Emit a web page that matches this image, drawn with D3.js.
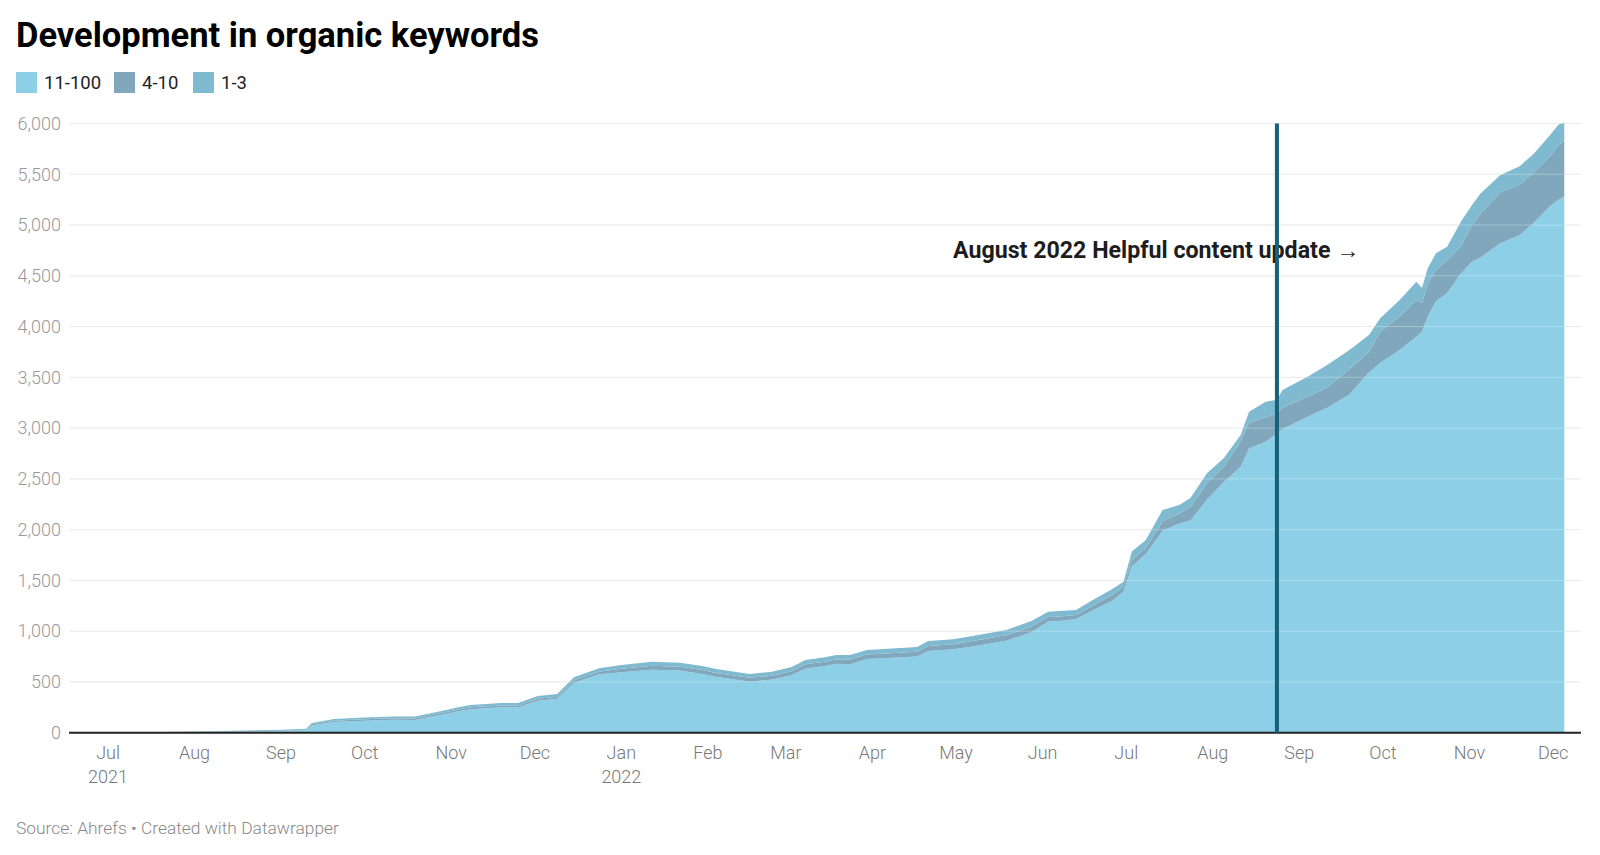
<!DOCTYPE html>
<html lang="en">
<head>
  <meta charset="utf-8">
  <script src="https://d3js.org/d3.v7.min.js"></script>
  <style>
    body { margin: 0; background: #fff; font-family: Roboto, "Noto Sans", sans-serif; }
    .tick-y { font-size: 18px; font-weight: 300; fill: #999; }
    .tick-x { font-size: 18px; font-weight: 300; fill: #777; }
  </style>
</head>
<body>
  <script type="text/javascript">
    // dates of the samples
    var dates = [
      "2021-06-17", "2021-07-01", "2021-07-15", "2021-08-01", "2021-08-15",
      "2021-09-01", "2021-09-10", "2021-09-12", "2021-09-20", "2021-10-01",
      "2021-10-11", "2021-10-19", "2021-10-29", "2021-11-04", "2021-11-08",
      "2021-11-19", "2021-11-25", "2021-12-02", "2021-12-09", "2021-12-15",
      "2021-12-24", "2022-01-01", "2022-01-12", "2022-01-22", "2022-01-30",
      "2022-02-04", "2022-02-16", "2022-02-24", "2022-03-03", "2022-03-08",
      "2022-03-15", "2022-03-19", "2022-03-24", "2022-03-30", "2022-04-17",
      "2022-04-21", "2022-04-30", "2022-05-07", "2022-05-19", "2022-05-28",
      "2022-06-03", "2022-06-07", "2022-06-13", "2022-06-19", "2022-06-26",
      "2022-06-30", "2022-07-03", "2022-07-08", "2022-07-14", "2022-07-20",
      "2022-07-24", "2022-07-30", "2022-08-05", "2022-08-11", "2022-08-14",
      "2022-08-20", "2022-08-24", "2022-08-26", "2022-09-04", "2022-09-11",
      "2022-09-19", "2022-09-26", "2022-09-30", "2022-10-07", "2022-10-13",
      "2022-10-15", "2022-10-17", "2022-10-20", "2022-10-24", "2022-10-29",
      "2022-11-02", "2022-11-05", "2022-11-12", "2022-11-19", "2022-11-24",
      "2022-11-30", "2022-12-03", "2022-12-05"
    ];

    // keywords ranking 11-100
    var pos11to100 = [
      0, 1, 2, 6, 10, 15, 24, 72, 105, 118,
      128, 126, 180, 214, 232, 250, 250, 315, 334, 492,
      575, 595, 620, 612, 578, 550, 503, 524, 566, 632,
      656, 678, 675, 725, 750, 805, 822, 850, 905, 990,
      1095, 1100, 1120, 1205, 1300, 1390, 1640, 1760, 1990, 2060,
      2090, 2300, 2470, 2620, 2800, 2866, 2950, 2990, 3112, 3200,
      3330, 3550, 3640, 3769, 3900, 3950, 4097, 4250, 4330, 4525,
      4640, 4680, 4820, 4900, 5020, 5190, 5250, 5280
    ];

    // keywords ranking 4-10
    var pos4to10 = [
      0, 1, 2, 3, 4, 5, 6, 10, 13, 14,
      14, 14, 16, 16, 18, 18, 18, 20, 20, 24,
      25, 35, 40, 38, 39, 38, 37, 38, 40, 42,
      44, 44, 45, 45, 48, 50, 50, 53, 55, 55,
      45, 45, 40, 45, 55, 50, 60, 60, 90, 100,
      130, 160, 150, 250, 250, 244, 190, 210, 197, 200,
      250, 200, 309, 330, 362, 280, 323, 307, 320, 265,
      360, 430, 500, 500, 492, 490, 540, 550
    ];

    // keywords ranking 1-3
    var pos1to3 = [
      0, 0, 1, 3, 6, 8, 10, 14, 17, 18,
      18, 20, 21, 23, 23, 24, 24, 26, 27, 29,
      34, 37, 39, 40, 40, 39, 38, 39, 41, 42,
      42, 43, 45, 44, 46, 48, 48, 49, 51, 55,
      52, 53, 48, 57, 60, 47, 85, 78, 113, 83,
      91, 98, 86, 62, 111, 150, 140, 175, 197, 221,
      189, 167, 132, 163, 180, 150, 150, 164, 137, 245,
      200, 200, 170, 180, 188, 210, 200, 180
    ];

    var seriesNames = ["11-100", "4-10", "1-3"];
    var seriesColors = ["#8ccfe6", "#80a7bb", "#7fbad0"];
    var yTicks = [0, 500, 1000, 1500, 2000, 2500, 3000, 3500, 4000, 4500, 5000, 5500, 6000];
    var xDomain = ["2021-06-17", "2022-12-11"];
    var updateDate = "2022-08-24";
    var updateLabel = "August 2022 Helpful content update \u2192";

    var dim = {
      width: 1600,
      height: 855,
      left: 69,
      right: 1581,
      top: 123.5,
      bottom: 732.7
    };

    var parse = d3.timeParse("%Y-%m-%d");

    var rows = dates.map(function(d, i) {
      return {
        date: parse(d),
        "11-100": pos11to100[i],
        "4-10": pos4to10[i],
        "1-3": pos1to3[i]
      };
    });

    var svg = d3.select("body")
      .append("svg")
      .attr("width", dim.width)
      .attr("height", dim.height);

    // title
    svg.append("text")
      .attr("x", 16)
      .attr("y", 47)
      .style("font-size", "34.5px")
      .style("font-weight", "700")
      .style("fill", "#000")
      .text("Development in organic keywords");

    // legend
    var legendX = [16, 114, 193];
    seriesNames.forEach(function(name, i) {
      svg.append("rect")
        .attr("x", legendX[i])
        .attr("y", 72)
        .attr("width", 21)
        .attr("height", 21)
        .attr("fill", seriesColors[i]);
      svg.append("text")
        .attr("x", legendX[i] + 28)
        .attr("y", 89)
        .style("font-size", "18.5px")
        .style("fill", "#222")
        .text(name);
    });

    var xScale = d3.scaleTime()
      .domain(xDomain.map(parse))
      .range([dim.left, dim.right]);

    var yScale = d3.scaleLinear()
      .domain([0, 6000])
      .range([dim.bottom, dim.top]);

    // gridlines
    svg.append("g")
      .selectAll("line")
      .data(yTicks.slice(1))
      .enter()
      .append("line")
      .attr("x1", dim.left)
      .attr("x2", dim.right)
      .attr("y1", function(d) { return yScale(d); })
      .attr("y2", function(d) { return yScale(d); })
      .attr("stroke", "#e3e3e3")
      .attr("stroke-width", 1);

    // y labels
    svg.append("g")
      .selectAll("text")
      .data(yTicks)
      .enter()
      .append("text")
      .attr("class", "tick-y")
      .attr("x", 61)
      .attr("y", function(d) { return yScale(d); })
      .attr("dy", "0.35em")
      .attr("text-anchor", "end")
      .text(d3.format(","));

    // stacked areas
    var stack = d3.stack().keys(seriesNames);
    var layers = stack(rows);

    var area = d3.area()
      .x(function(d) { return xScale(d.data.date); })
      .y0(function(d) { return yScale(d[0]); })
      .y1(function(d) { return yScale(d[1]); });

    svg.append("g")
      .selectAll("path")
      .data(layers)
      .enter()
      .append("path")
      .attr("d", area)
      .attr("fill", function(d, i) { return seriesColors[i]; });

    // faint gridlines showing through the areas
    svg.append("g")
      .selectAll("line")
      .data(yTicks.slice(1))
      .enter()
      .append("line")
      .attr("x1", dim.left)
      .attr("x2", dim.right)
      .attr("y1", function(d) { return yScale(d); })
      .attr("y2", function(d) { return yScale(d); })
      .attr("stroke", "#ffffff")
      .attr("stroke-opacity", 0.3)
      .attr("stroke-width", 1);

    // baseline
    svg.append("line")
      .attr("x1", dim.left)
      .attr("x2", dim.right)
      .attr("y1", yScale(0))
      .attr("y2", yScale(0))
      .attr("stroke", "#222")
      .attr("stroke-width", 2);

    // x axis: month labels at the first of each month
    var months = d3.timeMonth.range(parse("2021-07-01"), parse("2022-12-02"));
    var xAxis = svg.append("g");
    months.forEach(function(m) {
      xAxis.append("text")
        .attr("class", "tick-x")
        .attr("x", xScale(m))
        .attr("y", 759)
        .attr("text-anchor", "middle")
        .text(d3.timeFormat("%b")(m));
      if (m.getMonth() === 0 || +m === +months[0]) {
        xAxis.append("text")
          .attr("class", "tick-x")
          .attr("x", xScale(m))
          .attr("y", 783)
          .attr("text-anchor", "middle")
          .text(d3.timeFormat("%Y")(m));
      }
    });

    // annotation text, drawn below the marker line
    svg.append("text")
      .attr("x", 953)
      .attr("y", 258)
      .style("font-size", "23.2px")
      .style("font-weight", "700")
      .style("fill", "#1d1d1d")
      .text(updateLabel);

    // marker line for the update
    svg.append("line")
      .attr("x1", xScale(parse(updateDate)))
      .attr("x2", xScale(parse(updateDate)))
      .attr("y1", yScale(6000))
      .attr("y2", yScale(0))
      .attr("stroke", "#15607a")
      .attr("stroke-width", 4);

    // source
    svg.append("text")
      .attr("x", 16)
      .attr("y", 834)
      .style("font-size", "17.4px")
      .style("font-weight", "300")
      .style("fill", "#888")
      .text("Source: Ahrefs \u2022 Created with Datawrapper");
  </script>
</body>
</html>
